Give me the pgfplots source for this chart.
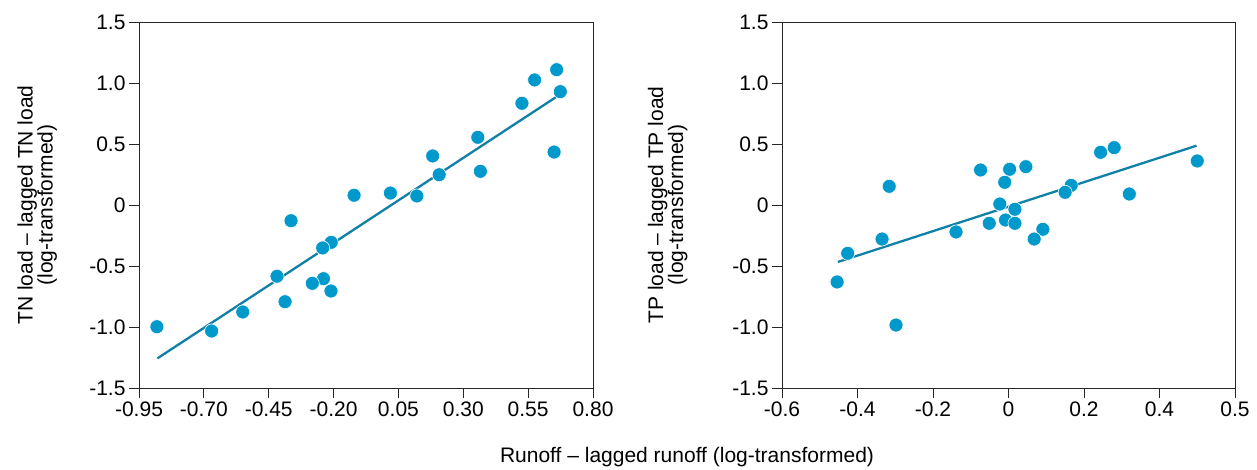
\documentclass[border=0pt]{standalone}
\usepackage{fontspec}
\setmainfont{Liberation Sans}
\usepackage{pgfplots}
\pgfplotsset{compat=1.18}
\definecolor{pt}{RGB}{0,153,204}
\definecolor{ln}{RGB}{16,128,166}
\pgfplotsset{
  myaxis/.style={
    scale only axis,
    width=454pt, height=366pt,
    ymin=-1.5, ymax=1.5,
    ytick={-1.5,-1,-0.5,0,0.5,1,1.5},
    yticklabels={-1.5,-1.0,-0.5,0,0.5,1.0,1.5},
    tick align=outside, tick pos=left,
    major tick length=10pt,
    axis line style={line width=0.9pt, black!85},
    every tick/.style={line width=0.9pt, black!85},
    tick label style={font=\fontsize{21}{25}\selectfont},
    label style={font=\fontsize{21}{20}\selectfont},
    ylabel style={align=center, anchor=south, inner sep=0pt},
    clip=false,
  },
  pts/.style={only marks, mark=*, mark size=7pt,
    mark options={fill=pt, draw=white, line width=0.6pt}},
  fit/.style={no marks, color=ln, line width=2.3pt},
}
\begin{document}
\begin{tikzpicture}[x=1pt,y=1pt]
\path[use as bounding box] (0,0) rectangle (1257,470);
\begin{axis}[myaxis,
  at={(139pt,82pt)}, anchor=south west,
  xmin=-0.95, xmax=0.80,
  xtick={-0.95,-0.7,-0.45,-0.2,0.05,0.3,0.55,0.8},
  xticklabels={-0.95,-0.70,-0.45,-0.20,0.05,0.30,0.55,0.80},
  ylabel={TN load -- lagged TN load\\(log-transformed)},
  ylabel style={at={(axis description cs:-0.18,0.5)}},
]
\addplot[pts] coordinates {
(0.660,1.109) (0.575,1.025) (0.674,0.929) (0.526,0.834) (0.356,0.555)
(0.650,0.434) (0.182,0.402) (0.366,0.276) (0.207,0.248) (-0.121,0.080)
(0.019,0.098) (0.121,0.074) (-0.364,-0.129) (-0.209,-0.306) (-0.242,-0.352)
(-0.418,-0.584) (-0.239,-0.604) (-0.282,-0.642) (-0.210,-0.705) (-0.387,-0.793)
(-0.550,-0.877) (-0.670,-1.033) (-0.881,-0.998)
};
\addplot[fit] coordinates {(-0.879,-1.257) (0.660,0.888)};
\end{axis}
\begin{axis}[myaxis,
  at={(782pt,82pt)}, anchor=south west,
  width=453pt,
  xmin=-0.6, xmax=0.6,
  xtick={-0.6,-0.4,-0.2,0,0.2,0.4,0.6},
  xticklabels={-0.6,-0.4,-0.2,0,0.2,0.4,0.5},
  ylabel={TP load -- lagged TP load\\(log-transformed)},
  ylabel style={at={(axis description cs:-0.208,0.5)}},
]
\addplot[pts] coordinates {
(0.280,0.470) (0.244,0.432) (0.500,0.361) (-0.074,0.287) (0.003,0.293)
(0.046,0.314) (-0.010,0.186) (-0.316,0.153) (0.166,0.161) (0.150,0.104)
(0.320,0.090) (-0.023,0.008) (0.017,-0.035) (-0.008,-0.123) (-0.051,-0.150)
(0.017,-0.150) (0.091,-0.199) (-0.139,-0.221) (-0.335,-0.279) (0.068,-0.279)
(-0.426,-0.396) (-0.454,-0.631) (-0.298,-0.984)
};
\addplot[fit] coordinates {(-0.452,-0.467) (0.498,0.486)};
\end{axis}
\node[font=\fontsize{21}{25}\selectfont, anchor=base] at (687,7) {Runoff -- lagged runoff (log-transformed)};
\end{tikzpicture}
\end{document}
